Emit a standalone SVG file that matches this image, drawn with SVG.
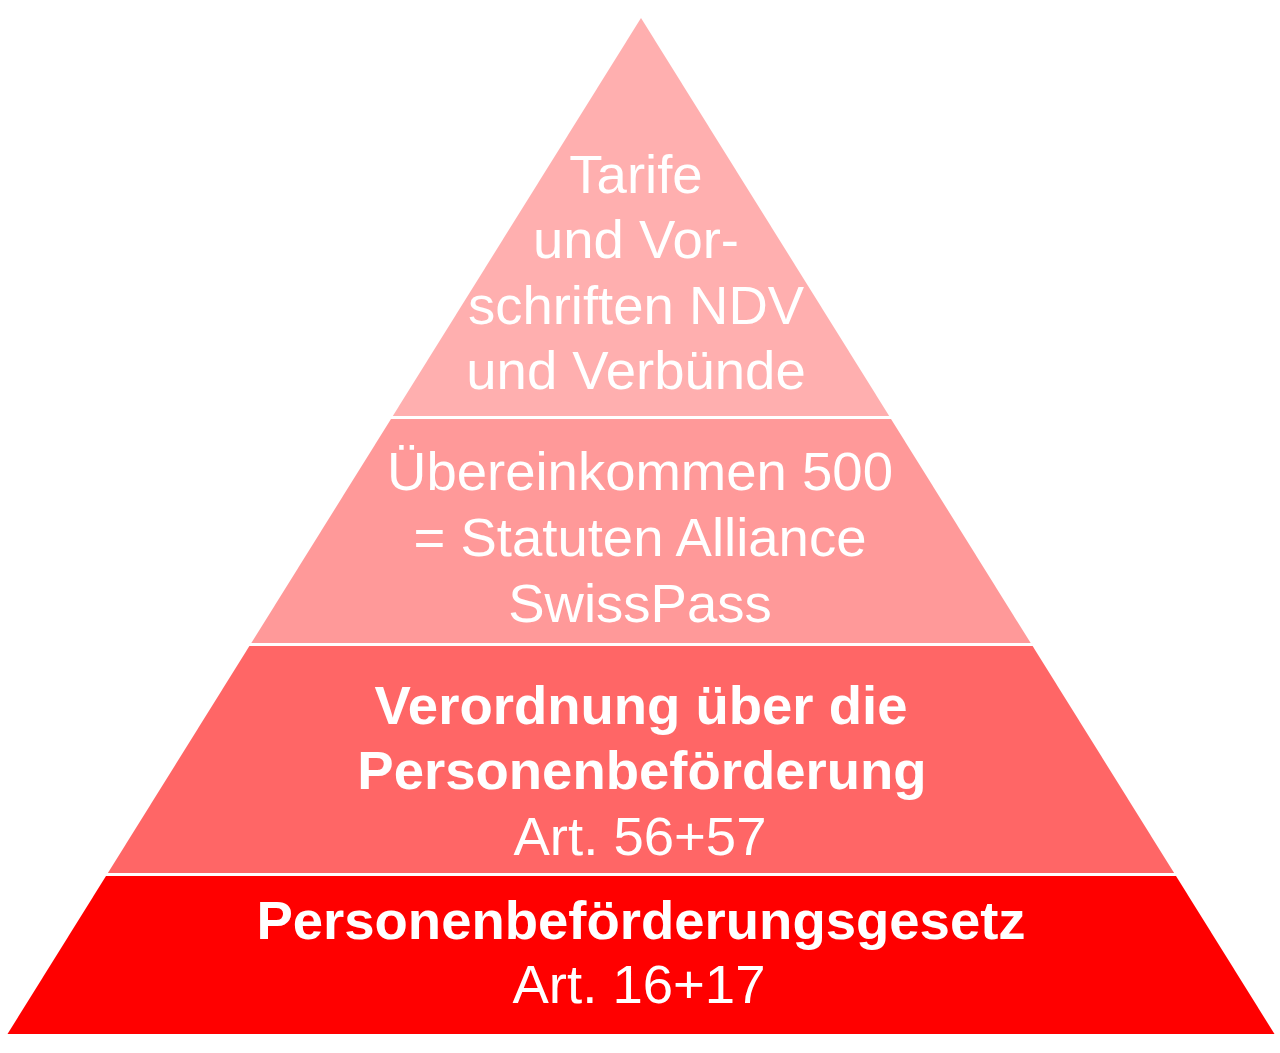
<svg xmlns="http://www.w3.org/2000/svg" width="1280" height="1053" viewBox="0 0 1280 1053">
<style>
.t{font-family:"Liberation Sans",Arial,sans-serif;font-size:54.5px;fill:#ffffff;text-anchor:middle}
.b{font-weight:bold}
</style>
<rect x="0" y="0" width="1280" height="1053" fill="#ffffff"/>
<g id="level1">
<polygon points="641,18 889.2,416 392.8,416" fill="#ffafaf"/>
<text class="t" x="636" y="193">Tarife</text>
<text class="t" x="636" y="258">und Vor-</text>
<text class="t" x="636" y="324">schriften NDV</text>
<text class="t" x="636" y="389">und Verbünde</text>
</g>
<g id="level2">
<polygon points="391,419 891,419 1030.7,643 251.3,643" fill="#ff9999"/>
<text class="t" x="640" y="490">Übereinkommen 500</text>
<text class="t" x="640" y="556">= Statuten Alliance</text>
<text class="t" x="640" y="622">SwissPass</text>
</g>
<g id="level3">
<polygon points="249.4,646 1032.6,646 1174.1,873 107.9,873" fill="#ff6666"/>
<text class="t b" x="641" y="724">Verordnung über die</text>
<text class="t b" x="642" y="789">Personenbeförderung</text>
<text class="t" x="640" y="855">Art. 56+57</text>
</g>
<g id="level4">
<polygon points="106,876 1176,876 1274.5,1034 7.5,1034" fill="#ff0000"/>
<text class="t b" x="641" y="939">Personenbeförderungsgesetz</text>
<text class="t" x="639" y="1003">Art. 16+17</text>
</g>
<g id="connectors"/>
</svg>
